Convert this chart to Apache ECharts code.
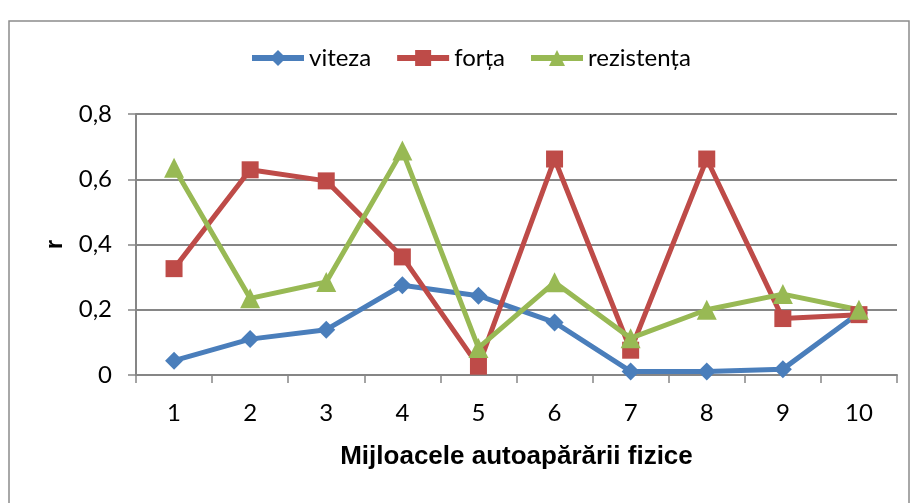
<!DOCTYPE html>
<html><head><meta charset="utf-8">
<script src="https://cdn.jsdelivr.net/npm/echarts@6/dist/echarts.min.js"></script>
<style>html,body{margin:0;padding:0;background:#fff}#c{width:914px;height:503px}</style>
</head><body><div id="c"></div>
<script>
var categories = ['1','2','3','4','5','6','7','8','9','10'];
var viteza = [0.044, 0.110, 0.139, 0.275, 0.243, 0.161, 0.011, 0.011, 0.018, 0.19];
var forta = [0.326, 0.629, 0.595, 0.362, 0.027, 0.662, 0.076, 0.662, 0.173, 0.185];
var rezistenta = [0.635, 0.235, 0.285, 0.688, 0.083, 0.284, 0.113, 0.200, 0.248, 0.200];
var seriesNames = ['viteza', 'forța', 'rezistența'];
var yTicks = {min: 0, max: 0.8, interval: 0.2};

var FONT = 'Lato, "DejaVu Sans Condensed", sans-serif';
var BOLD = '"Liberation Sans", Arial, sans-serif';
var chart = echarts.init(document.getElementById('c'), null, {renderer: 'canvas'});
function mk(name, data, color, symbol, size) {
  return {
    name: name, type: 'line', data: data, symbol: symbol, symbolSize: size,
    lineStyle: {width: 5, color: color}, itemStyle: {color: color},
    emphasis: {disabled: true}, animation: false, z: 3
  };
}
chart.setOption({
  animation: false,
  graphic: [{type: 'rect', shape: {x: 9, y: 21, width: 900, height: 500},
    style: {fill: 'none', stroke: '#8c8c8c', lineWidth: 1.5}, silent: true}],
  legend: {
    top: 41, left: 244, itemWidth: 52, itemHeight: 20, itemGap: 23,
    lineStyle: {width: 6},
    textStyle: {fontFamily: FONT, fontSize: 24, color: '#000'},
    data: seriesNames
  },
  grid: {left: 136, right: 17, top: 114, bottom: 128, containLabel: false},
  xAxis: {
    type: 'category', data: categories, boundaryGap: true,
    axisLine: {lineStyle: {color: '#868686', width: 2}},
    axisTick: {show: true, length: 8, lineStyle: {color: '#868686', width: 1.5}},
    axisLabel: {fontFamily: FONT, fontSize: 24, color: '#000', margin: 26},
    name: 'Mijloacele autoapărării fizice', nameLocation: 'middle', nameGap: 69,
    nameTextStyle: {fontFamily: BOLD, fontSize: 26, fontWeight: 'bold', color: '#000'}
  },
  yAxis: {
    type: 'value', min: yTicks.min, max: yTicks.max, interval: yTicks.interval,
    axisLine: {show: true, lineStyle: {color: '#868686', width: 2}},
    axisTick: {show: true, length: 8, lineStyle: {color: '#868686', width: 1.5}},
    splitLine: {lineStyle: {color: '#868686', width: 2}},
    axisLabel: {fontFamily: FONT, fontSize: 24, color: '#000', margin: 24,
      formatter: function (v) { return String(Math.round(v * 10) / 10).replace('.', ','); }},
    name: 'r', nameLocation: 'middle', nameGap: 65, nameRotate: 90,
    nameTextStyle: {fontFamily: BOLD, fontSize: 24, fontWeight: 'bold', color: '#000'}
  },
  series: [
    mk(seriesNames[0], viteza, '#4A7EBB', 'diamond', 18),
    mk(seriesNames[1], forta, '#BE4B48', 'rect', 17),
    mk(seriesNames[2], rezistenta, '#98B954', 'triangle', 20)
  ]
});
</script></body></html>
